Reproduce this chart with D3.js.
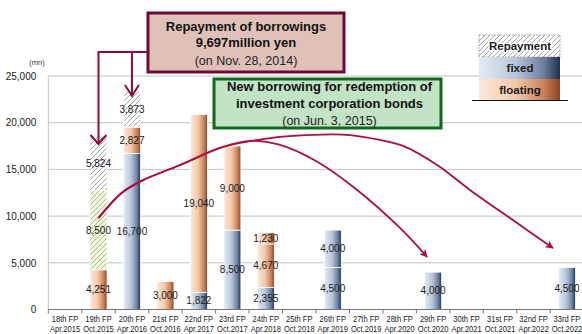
<!DOCTYPE html>
<html><head><meta charset="utf-8">
<script src="https://cdn.jsdelivr.net/npm/d3@7"></script>
<style>
html,body{margin:0;padding:0;background:#fff;}
svg{display:block;font-family:Arial,"Liberation Sans",sans-serif;}
</style></head><body>
<svg id="chart" width="582" height="334"></svg>
<script>
// Fiscal periods and their closing months
const periods = ["18th FP","19th FP","20th FP","21st FP","22nd FP","23rd FP","24th FP","25th FP",
                 "26th FP","27th FP","28th FP","29th FP","30th FP","31st FP","32nd FP","33rd FP"];
const periodMonths = ["Apr.2015","Oct.2015","Apr.2016","Oct.2016","Apr.2017","Oct.2017","Apr.2018","Oct.2018",
                      "Apr.2019","Oct.2019","Apr.2020","Oct.2020","Apr.2021","Oct.2021","Apr.2022","Oct.2022"];

// Maturities by period (million yen), stacked bottom to top
const fixedRate      = [0,    0, 16700,    0,  1822, 8500, 2355, 0, 4500, 0, 0, 4000, 0, 0, 0, 4500];
const fixedRate2     = [0,    0,     0,    0,     0,    0,    0, 0, 4000, 0, 0,    0, 0, 0, 0,    0];
const floatingRate   = [0, 4251,  2827, 3000, 19040, 9000, 4670, 0,    0, 0, 0,    0, 0, 0, 0,    0];
const floatingRate2  = [0,    0,     0,    0,     0,    0, 1230, 0,    0, 0, 0,    0, 0, 0, 0,    0];
const bondRedemption = [0, 8500,     0,    0,     0,    0,    0, 0,    0, 0, 0,    0, 0, 0, 0,    0];
const repayment      = [0, 5824,  3873,    0,     0,    0,    0, 0,    0, 0, 0,    0, 0, 0, 0,    0];

const yTicks = [0, 5000, 10000, 15000, 20000, 25000];

// Refinancing arcs: [period index offset, amount] anchor points
const arcTo29th = [[1,9800],[1.7,12500],[2.3,13800],[3.44,15470],[4.72,17400],[5.55,18050],[6.4,17650],
                   [7.5,15900],[8.73,12800],[10.01,8730],[10.82,5620]];
const arcTo33rd = [[1,9800],[1.7,12500],[2.3,13800],[3.44,15470],[4.72,17400],[6.13,18360],[7.41,18700],
                   [8.52,18680],[9.41,18150],[10.1,17510],[11.12,15470],[12.1,12800],[13.51,9260],[14.58,6580]];

const keys = ["fixedRate","fixedRate2","floatingRate","floatingRate2","bondRedemption","repayment"];
const series = {fixedRate, fixedRate2, floatingRate, floatingRate2, bondRedemption, repayment};
const rows = periods.map((p, i) => {
  const r = {period: p};
  keys.forEach(k => r[k] = series[k][i]);
  return r;
});

const svg = d3.select("#chart");
const plotLeft = 48.3, plotRight = 583.7, plotBottom = 309.5, plotTop = 76;

const x = d3.scaleBand().domain(periods).range([plotLeft, plotRight]).paddingInner(0.49).paddingOuter(0.245);
const y = d3.scaleLinear().domain([0, 25000]).range([plotBottom, plotTop]);
const step = x.step();
const xi = i => x(periods[0]) + x.bandwidth() / 2 + i * step;

// ---- defs: gradients and hatches
const defs = svg.append("defs");
function hGrad(id, stops) {
  const g = defs.append("linearGradient").attr("id", id).attr("x1", 0).attr("x2", 1).attr("y1", 0).attr("y2", 0);
  stops.forEach(([o, c]) => g.append("stop").attr("offset", o).attr("stop-color", c));
}
hGrad("gradFixed", [[0, "#e4ebf4"], [0.45, "#b9c6d9"], [0.8, "#6b7f9f"], [1, "#1f2f4f"]]);
hGrad("gradFloat", [[0, "#fce9dc"], [0.45, "#f2c9aa"], [0.8, "#c88259"], [1, "#8e4422"]]);
function hatch(id, bg, fg) {
  const p = defs.append("pattern").attr("id", id).attr("patternUnits", "userSpaceOnUse")
    .attr("width", 5).attr("height", 5);
  p.append("rect").attr("width", 5).attr("height", 5).attr("fill", bg);
  p.append("path").attr("d", "M-1,1 l2,-2 M0,5 l5,-5 M4,6 l2,-2")
    .attr("stroke", fg).attr("stroke-width", 1);
}
hatch("hatchGray", "#ffffff", "#a3a3a3");
hatch("hatchGreen", "#f2f7e4", "#a7c36a");

const fills = {
  fixedRate: "url(#gradFixed)", fixedRate2: "url(#gradFixed)",
  floatingRate: "url(#gradFloat)", floatingRate2: "url(#gradFloat)",
  bondRedemption: "url(#hatchGreen)", repayment: "url(#hatchGray)"
};

// ---- gridlines and plot frame
svg.append("g").selectAll("line").data(yTicks.filter(t => t > 0)).join("line")
  .attr("x1", plotLeft).attr("x2", plotRight).attr("y1", d => y(d)).attr("y2", d => y(d))
  .attr("stroke", "#c2c2c2").attr("stroke-width", 1);
svg.append("line").attr("x1", plotLeft).attr("x2", plotLeft).attr("y1", plotTop).attr("y2", plotBottom)
  .attr("stroke", "#c2c2c2");

// ---- y axis labels
const yAxis = svg.append("g").attr("transform", `translate(${plotLeft - 12},0)`)
  .call(d3.axisLeft(y).tickValues(yTicks).tickSize(0).tickPadding(0).tickFormat(d3.format(",")));
yAxis.select(".domain").remove();
yAxis.selectAll("text").attr("font-size", 10).attr("fill", "#1a1a1a").attr("font-family", "Arial, 'Liberation Sans', sans-serif");
svg.append("text").attr("x", 37).attr("y", 65).attr("text-anchor", "middle")
  .attr("font-size", 7.5).attr("fill", "#333").text("(mn)");

// ---- stacked bars
const stacked = d3.stack().keys(keys)(rows);
const barG = svg.append("g");
stacked.forEach(layer => {
  barG.append("g").selectAll("rect").data(layer.filter(d => d[1] - d[0] > 0)).join("rect")
    .attr("x", d => x(d.data.period)).attr("width", x.bandwidth())
    .attr("y", d => y(d[1])).attr("height", d => y(d[0]) - y(d[1]))
    .attr("fill", fills[layer.key]).attr("stroke", "#fff").attr("stroke-width", 0.8);
});
stacked.forEach(layer => {
  barG.append("g").selectAll("text").data(layer.filter(d => d[1] - d[0] > 0)).join("text")
    .attr("x", d => x(d.data.period) + x.bandwidth() / 2)
    .attr("y", d => y((d[0] + d[1]) / 2))
    .attr("dy", "0.35em").attr("text-anchor", "middle")
    .attr("font-size", 10).attr("fill", "#1a1a1a")
    .text(d => d3.format(",")(d[1] - d[0]));
});

// ---- x axis
svg.append("line").attr("x1", plotLeft).attr("x2", plotRight).attr("y1", plotBottom).attr("y2", plotBottom)
  .attr("stroke", "#777").attr("stroke-width", 1);
svg.append("g").selectAll("line").data(d3.range(periods.length + 1)).join("line")
  .attr("x1", i => plotLeft + i * step).attr("x2", i => plotLeft + i * step)
  .attr("y1", plotBottom).attr("y2", plotBottom + 4).attr("stroke", "#777");
const xAxis = svg.append("g").attr("transform", `translate(0,${plotBottom})`)
  .call(d3.axisBottom(x).tickSize(0).tickPadding(0));
xAxis.select(".domain").remove();
xAxis.selectAll("text").each(function(d, i) {
  const t = d3.select(this).text(null).attr("y", 0).attr("dy", null)
    .attr("transform", "scale(0.86,1)")
    .attr("font-size", 8.8).attr("fill", "#1a1a1a").attr("font-family", "Arial, 'Liberation Sans', sans-serif");
  t.append("tspan").attr("x", 0).attr("y", 12.5).text(d);
  t.append("tspan").attr("x", 0).attr("y", 23).text(periodMonths[i]);
});

// ---- refinancing arcs
const arrowCol = "#b00d3c";
defs.append("marker").attr("id", "arrowHead").attr("viewBox", "0 0 10 10")
  .attr("refX", 9).attr("refY", 5).attr("markerUnits", "userSpaceOnUse")
  .attr("markerWidth", 9).attr("markerHeight", 8).attr("orient", "auto")
  .append("path").attr("d", "M0,0 L10,5 L0,10 L2.5,5 Z").attr("fill", arrowCol);
const arcLine = d3.line().x(d => xi(d[0])).y(d => y(d[1])).curve(d3.curveCatmullRom.alpha(0.5));
[arcTo29th, arcTo33rd].forEach(a => {
  svg.append("path").attr("d", arcLine(a)).attr("fill", "none")
    .attr("stroke", arrowCol).attr("stroke-width", 1.8).attr("marker-end", "url(#arrowHead)");
});

// ---- repayment callout
const calloutCol = "#8e0b3d";
const idx19 = periods.indexOf("19th FP"), idx20 = periods.indexOf("20th FP");
const total = i => keys.reduce((s, k) => s + series[k][i], 0);
const cx19 = xi(idx19), cx20 = xi(idx20);
const tip19 = y(total(idx19)) + 8, tip20 = y(total(idx20)) + 5;
const box1 = {x: 148, y: 13, w: 196, h: 59};
const elbowY = 52;
svg.append("path").attr("d", `M${box1.x},${elbowY} H${cx19} V${tip19} M${cx20},${elbowY} V${tip20}`)
  .attr("fill", "none").attr("stroke", calloutCol).attr("stroke-width", 2);
svg.append("path")
  .attr("d", `M${cx19 - 8},${tip19 - 9} L${cx19},${tip19} L${cx19 + 8},${tip19 - 9}` +
             `M${cx20 - 7},${tip20 - 11} L${cx20},${tip20} L${cx20 + 7},${tip20 - 11}`)
  .attr("fill", "none").attr("stroke", calloutCol).attr("stroke-width", 2);

svg.append("rect").attr("x", box1.x).attr("y", box1.y).attr("width", box1.w).attr("height", box1.h)
  .attr("fill", "#e0c1b9").attr("stroke", "#6f0a34").attr("stroke-width", 3);
const b1c = box1.x + box1.w / 2;
svg.append("text").attr("x", b1c).attr("y", 31).attr("text-anchor", "middle")
  .attr("font-size", 13).attr("font-weight", "bold").attr("fill", "#111").text("Repayment of borrowings");
svg.append("text").attr("x", b1c).attr("y", 47).attr("text-anchor", "middle")
  .attr("font-size", 13).attr("font-weight", "bold").attr("fill", "#111").text("9,697million yen");
svg.append("text").attr("x", b1c).attr("y", 65).attr("text-anchor", "middle")
  .attr("font-size", 12.5).attr("fill", "#222").text("(on Nov. 28, 2014)");

// ---- new borrowing callout
const box2 = {x: 214, y: 79, w: 227, h: 49};
svg.append("rect").attr("x", box2.x).attr("y", box2.y).attr("width", box2.w).attr("height", box2.h)
  .attr("fill", "#c3e3c6").attr("stroke", "#0f6a1b").attr("stroke-width", 3);
const b2c = box2.x + box2.w / 2 + 2;
svg.append("text").attr("x", b2c).attr("y", 91).attr("text-anchor", "middle")
  .attr("font-size", 13).attr("font-weight", "bold").attr("fill", "#111").text("New borrowing for redemption of");
svg.append("text").attr("x", b2c).attr("y", 107.5).attr("text-anchor", "middle")
  .attr("font-size", 13).attr("font-weight", "bold").attr("fill", "#111").text("investment corporation bonds");
svg.append("text").attr("x", b2c).attr("y", 125).attr("text-anchor", "middle")
  .attr("font-size", 12.5).attr("fill", "#222").text("(on Jun. 3, 2015)");

// ---- legend
const lg = svg.append("g");
const legendItems = [
  {label: "Repayment", fill: "url(#hatchGray)", y: 35, h: 22},
  {label: "fixed", fill: "url(#gradFixed)", y: 57, h: 22},
  {label: "floating", fill: "url(#gradFloat)", y: 79, h: 21}
];
lg.selectAll("rect").data(legendItems).join("rect")
  .attr("x", 479).attr("width", 81).attr("y", d => d.y).attr("height", d => d.h)
  .attr("fill", d => d.fill)
  .attr("stroke", (d, i) => i === 0 ? "#aaa" : "none").attr("stroke-dasharray", "2,1");
lg.selectAll("text").data(legendItems).join("text")
  .attr("x", 520).attr("y", d => d.y + d.h / 2).attr("dy", "0.36em").attr("text-anchor", "middle")
  .attr("font-size", 11.5).attr("font-weight", "bold").attr("fill", "#1a1a1a")
  .attr("stroke", (d, i) => i === 0 ? "#fff" : "none").attr("stroke-width", 2.5)
  .attr("paint-order", "stroke").text(d => d.label);
lg.append("line").attr("x1", 472).attr("x2", 568).attr("y1", 100.5).attr("y2", 100.5)
  .attr("stroke", "#111").attr("stroke-width", 1.2);
</script>
</body></html>
